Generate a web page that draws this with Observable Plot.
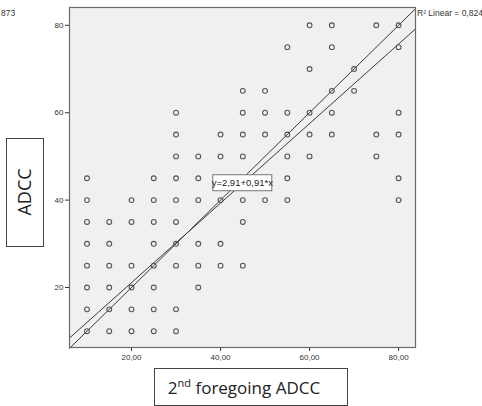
<!DOCTYPE html>
<html><head><meta charset="utf-8">
<script src="https://cdn.jsdelivr.net/npm/d3@7"></script>
<script src="https://cdn.jsdelivr.net/npm/@observablehq/plot@0.6"></script>
<style>
body{margin:0;background:#fff;}
#chart{position:relative;width:482px;height:406px;}
</style>
</head><body><div id="chart"></div>
<script>
// 2nd foregoing ADCC levels (x) and the ADCC values observed at each level (y)
const foregoing = [10,15,20,25,30,35,40,45,50,55,60,65,70,75,80];
const adccAt = [
  [10,15,20,25,30,35,40,45],
  [10,15,20,25,30,35],
  [10,15,20,25,35,40],
  [10,15,20,25,30,35,40,45],
  [10,15,25,30,35,40,45,50,55,60],
  [20,25,30,40,45,50],
  [25,30,40,50,55],
  [25,35,40,50,55,60,65],
  [40,55,60,65],
  [40,45,50,55,60,75],
  [50,55,60,70,80],
  [55,60,65,75,80],
  [65,70],
  [50,55,80],
  [40,45,55,60,75,80]
];
const xTicks = [20,40,60,80];
const yTicks = [20,40,60,80];
const fitIntercept = 2.91, fitSlope = 0.91;
const fitLabel = "y=2,91+0,91*x";
const r2Label = "R\u00B2 Linear = 0,824";
const cornerLabel = "873";
const xDomain = [6.07, 83.8];
const yDomain = [6.27, 84.07];

const points = foregoing.flatMap((x, i) => adccAt[i].map(y => ({x, y})));
const identityLine = xDomain.map(x => ({x, y: x}));
const fitLine = xDomain.map(x => ({x, y: fitIntercept + fitSlope * x}));

const plot = Plot.plot({
  width: 482, height: 406,
  marginLeft: 69, marginRight: 67, marginTop: 7, marginBottom: 59,
  style: {fontFamily: "'Liberation Sans', Arial, sans-serif", fontSize: "8px", color: "#333", background: "transparent"},
  x: {domain: xDomain, ticks: xTicks, tickSize: 4, tickPadding: 3,
      tickFormat: d => d3.format(".2f")(d).replace(".", ","), label: null},
  y: {domain: yDomain, ticks: yTicks, tickSize: 4, tickPadding: 2, label: null},
  marks: [
    Plot.frame({fill: "#f0f0f0"}),
    Plot.line(identityLine, {x: "x", y: "y", stroke: "#3a3a3a", strokeWidth: 1}),
    Plot.line(fitLine, {x: "x", y: "y", stroke: "#3a3a3a", strokeWidth: 1}),
    Plot.dot(points, {x: "x", y: "y", r: 2.4, stroke: "#555", strokeWidth: 1.1, fill: "none"}),
    Plot.frame({stroke: "#6a6a6a", strokeWidth: 1.2})
  ]
});
document.getElementById("chart").appendChild(plot);

const svg = d3.select(plot);
const sx = plot.scale("x"), sy = plot.scale("y");
const sans = "'Liberation Sans', Arial, sans-serif";

// regression equation label box on the fit line
const lx = 45, ly = fitIntercept + fitSlope * lx;
const cx = sx.apply(lx), cy = sy.apply(ly);
const g = svg.append("g");
g.append("rect").attr("x", cx - 29.5).attr("y", cy - 8).attr("width", 59).attr("height", 16)
  .attr("fill", "#fff").attr("stroke", "#777").attr("stroke-width", 1);
g.append("text").attr("x", cx).attr("y", cy + 3.5).attr("text-anchor", "middle")
  .attr("font-family", sans).attr("font-size", "9.5px").attr("fill", "#222")
  .text(fitLabel);

// R² label and corner text
svg.append("text").attr("x", 417).attr("y", 16).attr("text-anchor", "start").attr("font-family", sans)
  .attr("font-size", "8.5px").attr("fill", "#333").text(r2Label);
svg.append("text").attr("x", 1).attr("y", 16).attr("text-anchor", "start").attr("font-family", sans)
  .attr("font-size", "8.5px").attr("fill", "#333").text(cornerLabel);

// axis title boxes
const xl = svg.append("g");
xl.append("rect").attr("x", 154.5).attr("y", 368.5).attr("width", 193).attr("height", 37)
  .attr("fill", "#fff").attr("stroke", "#444").attr("stroke-width", 1);
const xt = xl.append("text").attr("x", 244).attr("y", 394).attr("text-anchor", "middle")
  .attr("font-family", "'Open Sans', sans-serif").attr("font-size", "17px").attr("fill", "#222");
xt.append("tspan").text("2");
xt.append("tspan").attr("font-size", "11px").attr("dy", "-7").text("nd");
xt.append("tspan").attr("dy", "7").text(" foregoing ADCC");

const yl = svg.append("g");
yl.append("rect").attr("x", 6.5).attr("y", 138.5).attr("width", 37).attr("height", 108)
  .attr("fill", "#fff").attr("stroke", "#444").attr("stroke-width", 1);
yl.append("text").attr("transform", "translate(31,192) rotate(-90)").attr("text-anchor", "middle")
  .attr("font-family", "'Open Sans', sans-serif").attr("font-size", "18px").attr("fill", "#222")
  .text("ADCC");
</script>
</body></html>
